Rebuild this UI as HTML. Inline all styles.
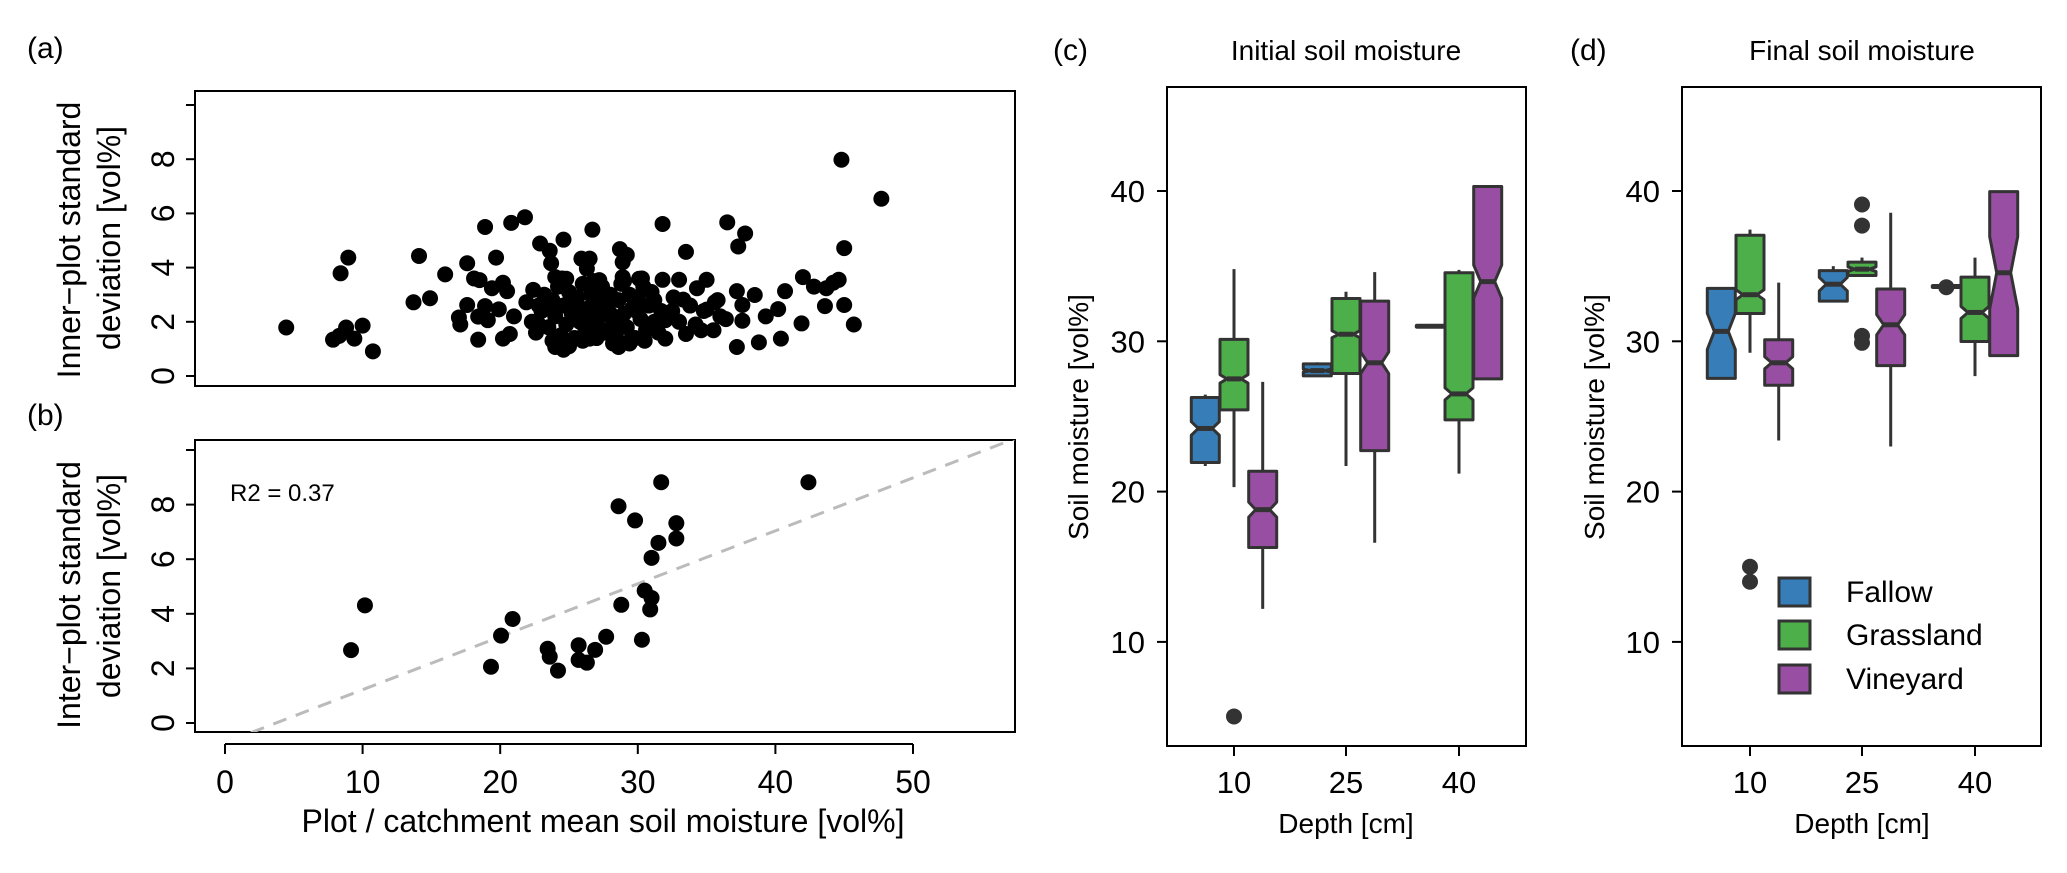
<!DOCTYPE html>
<html><head><meta charset="utf-8"><style>
html,body{margin:0;padding:0;background:#fff;}
svg{display:block;font-family:"Liberation Sans",sans-serif;}
</style></head><body>
<svg id="fig" width="2067" height="873" viewBox="0 0 2067 873" xmlns="http://www.w3.org/2000/svg">
<defs><clipPath id="clipB"><rect x="195" y="440" width="820" height="292"/></clipPath></defs>
<!-- Panel a -->
<g>
<text x="27" y="58" font-size="30">(a)</text>
<rect x="195" y="91" width="820" height="295" fill="none" stroke="#000" stroke-width="2"/>
<g id="aAxis"></g>
<text transform="translate(80,240) rotate(-90)" text-anchor="middle" font-size="32">Inner−plot standard</text>
<text transform="translate(120,238) rotate(-90)" text-anchor="middle" font-size="32">deviation [vol%]</text>
<g id="aPts"></g>
</g>
<!-- Panel b -->
<g>
<text x="27" y="425" font-size="30">(b)</text>
<rect x="195" y="440" width="820" height="292" fill="none" stroke="#000" stroke-width="2"/>
<g id="bAxis"></g>
<text transform="translate(80,595) rotate(-90)" text-anchor="middle" font-size="32">Inter−plot standard</text>
<text transform="translate(120,586) rotate(-90)" text-anchor="middle" font-size="32">deviation [vol%]</text>
<text x="603" y="832" text-anchor="middle" font-size="32">Plot / catchment mean soil moisture [vol%]</text>
<text x="230" y="501" font-size="24">R2 = 0.37</text>
<g id="bLine" clip-path="url(#clipB)"></g>
<g id="bPts"></g>
</g>
<!-- Panel c -->
<g>
<text x="1053" y="60" font-size="30">(c)</text>
<text x="1346" y="60" text-anchor="middle" font-size="28">Initial soil moisture</text>
<rect x="1167" y="87" width="359" height="659" fill="none" stroke="#000" stroke-width="2"/>
<text transform="translate(1088,417) rotate(-90)" text-anchor="middle" font-size="28">Soil moisture [vol%]</text>
<text x="1346" y="833" text-anchor="middle" font-size="28">Depth [cm]</text>
<g id="cG"></g>
</g>
<!-- Panel d -->
<g>
<text x="1570" y="60" font-size="30">(d)</text>
<text x="1862" y="60" text-anchor="middle" font-size="28">Final soil moisture</text>
<rect x="1682" y="87" width="359" height="659" fill="none" stroke="#000" stroke-width="2"/>
<text transform="translate(1604,417) rotate(-90)" text-anchor="middle" font-size="28">Soil moisture [vol%]</text>
<text x="1862" y="833" text-anchor="middle" font-size="28">Depth [cm]</text>
<g id="dG"></g>
</g>
<g>
<rect x="1779" y="578" width="31" height="28" fill="#377eb8" stroke="#333" stroke-width="3"/>
<text x="1846" y="602" font-size="30">Fallow</text>
<rect x="1779" y="621" width="31" height="28" fill="#4daf4a" stroke="#333" stroke-width="3"/>
<text x="1846" y="645" font-size="30">Grassland</text>
<rect x="1779" y="665" width="31" height="28" fill="#984ea3" stroke="#333" stroke-width="3"/>
<text x="1846" y="689" font-size="30">Vineyard</text>
</g>
</svg>
<script>
// ---- Panel a data ----
const aX = [4.45,7.85,8.4,8.96,8.8,8.3,9.4,10.0,10.75,13.7,14.1,14.9,16.0,17.0,17.1,17.6,17.6,18.1,18.4,18.4,18.5,18.9,18.9,19.1,19.7,19.9,19.4,20.2,20.2,20.5,20.7,20.8,21.0,21.8,21.9,22.4,22.9,22.8,23.3,23.6,23.7,24.0,24.0,24.6,24.6,24.8,25.0,25.9,26.3,26.5,26.5,26.7,27.2,27.5,28.7,29.2,28.9,28.9,28.6,29.4,30.1,31.8,31.8,32.0,32.0,33.0,33.5,33.3,33.5,34.3,35.0,34.6,35.5,35.0,35.6,36.4,36.5,37.2,37.2,37.3,37.8,37.6,37.6,38.5,38.8,39.3,40.2,40.4,40.7,41.9,42.0,42.8,43.6,43.7,44.2,44.6,44.8,45.0,45.0,45.7,47.7,
22.3,22.6,23.0,23.2,23.5,23.8,24.0,24.2,24.4,24.6,24.8,25.0,25.2,25.4,25.6,25.8,26.0,26.2,26.4,26.6,26.8,27.0,27.2,27.4,27.6,27.8,28.0,28.2,28.4,28.6,28.8,29.0,29.2,29.4,29.6,29.8,30.0,30.2,30.4,30.6,30.8,31.0,31.2,31.5,31.7,23.8,25.0,26.0,27.0,28.2,29.4,30.5,24.5,26.8,29.0,30.3,22.8,25.5,27.5,28.8,29.9,31.2,24.0,26.3,28.0,32.5,33.0,33.8,34.2,34.8,36.0,35.8,32.6];
const aY = [1.79,1.34,3.79,4.37,1.79,1.48,1.38,1.86,0.91,2.72,4.43,2.87,3.75,2.16,1.9,4.16,2.62,3.6,1.34,2.19,3.54,5.5,2.58,2.06,4.37,2.46,3.24,1.38,3.44,3.13,1.55,5.65,2.2,5.86,2.72,3.18,4.89,1.9,2.51,4.62,4.16,3.65,1.07,5.03,0.97,3.59,2.72,4.33,3.96,4.33,1.38,5.40,3.54,1.69,4.68,4.47,4.2,3.65,1.07,1.28,3.59,5.61,3.55,2.06,1.38,3.55,4.58,2.82,1.55,3.24,3.55,1.69,1.69,2.45,2.72,2.1,5.67,3.13,1.07,4.78,5.26,2.62,2.04,2.99,1.24,2.2,2.47,1.38,3.13,1.94,3.65,3.3,2.58,3.24,3.44,3.55,7.98,2.62,4.72,1.9,6.54,
2.0,1.6,2.4,3.0,1.8,2.8,2.2,3.3,1.5,2.6,1.9,3.1,2.3,1.4,2.9,2.0,3.4,1.7,2.5,3.0,1.9,2.7,2.2,3.3,1.6,2.5,3.0,2.0,1.5,2.8,3.4,2.3,1.8,3.0,2.5,1.4,2.9,2.1,3.3,1.7,2.6,3.1,2.0,1.6,2.4,1.3,1.1,1.3,1.4,1.2,1.2,1.3,3.6,3.5,3.5,3.6,2.6,2.5,2.9,2.0,2.4,2.8,2.5,2.1,2.3,2.4,2.0,2.6,1.9,2.4,2.2,2.8,2.9];
const aTicks = [0,2,4,6,8,10];
const aTickLabels = ["0","2","4","6","8",""];
// ---- Panel b data ----
const bX = [9.16,10.17,19.33,20.06,20.9,23.45,23.6,24.2,25.7,25.7,26.3,26.9,27.7,28.6,28.8,29.8,30.3,30.5,31.0,30.9,31.0,31.5,31.7,32.8,32.8,42.4];
const bY = [2.67,4.31,2.06,3.2,3.81,2.72,2.43,1.92,2.85,2.31,2.21,2.68,3.16,7.94,4.33,7.42,3.05,4.85,4.58,4.16,6.05,6.6,8.82,7.32,6.76,8.82];
const bFit = [0.194,-0.72]; // slope, intercept
const bXTicks = [0,10,20,30,40,50];
const bYTicks = [0,2,4,6,8,10];
const bYTickLabels = ["0","2","4","6","8",""];
// ---- Panels c/d data ----
const depths = ["10","25","40"];
const groups = ["Fallow","Grassland","Vineyard"];
const boxTicks = [10,20,30,40];
// per panel: arrays ordered [depth][group]
const cQ1 = [[21.94,25.44,16.28],[27.7,27.86,22.73],[30.95,24.77,27.5]];
const cMed = [[24.2,27.5,18.8],[28.05,30.47,28.57],[31.0,26.5,33.97]];
const cQ3 = [[26.26,30.13,21.35],[28.5,32.85,32.67],[31.05,34.56,40.3]];
const cLo = [[21.7,20.3,12.2],[27.7,21.7,16.6],[30.95,21.2,27.5]];
const cHi = [[26.45,34.8,27.3],[28.6,33.3,34.6],[31.05,34.75,40.3]];
const cNotch = [[0.45,0.28,0.5],[0.1,0.23,0.72],[0,0.4,1.1]];
const cOutV = [5.04]; const cOutD = [0]; const cOutG = [1];
const dQ1 = [[27.53,31.85,27.08],[32.67,34.38,28.38],[33.6,29.99,29.05]];
const dMed = [[30.66,33.1,28.57],[33.8,34.8,31.1],[33.65,31.92,34.56]];
const dQ3 = [[33.52,37.06,30.1],[34.7,35.27,33.48],[33.7,34.27,39.96]];
const dLo = [[27.53,29.24,23.4],[32.67,34.38,23.0],[33.6,27.68,29.05]];
const dHi = [[33.52,37.43,33.9],[35.0,35.57,38.55],[33.7,35.57,39.96]];
const dNotch = [[1.2,0.33,0.4],[0.45,0.15,0.67],[0,0.4,2.4]];
const dOutV = [15.0,14.0,39.1,37.7,30.36,29.9,33.6]; const dOutD = [0,0,1,1,1,1,2]; const dOutG = [1,1,1,1,1,1,0];
const colors = ["#377eb8","#4daf4a","#984ea3"];

const NS="http://www.w3.org/2000/svg";
function mk(tag,attrs,parent){const e=document.createElementNS(NS,tag);for(const k in attrs)e.setAttribute(k,attrs[k]);parent.appendChild(e);return e;}
const xA=v=>225+13.76*v, yA=v=>376-27.1*v, yB=v=>723-27.3*v;

// Panel a axis
const aAx=document.getElementById('aAxis');
let l=mk('line',{x1:195,x2:195,y1:yA(0),y2:yA(10),stroke:'#000','stroke-width':2},aAx);


aTicks.forEach((t,i)=>{
  const tk=mk('line',{x1:186,x2:195,y1:yA(t),y2:yA(t),stroke:'#000','stroke-width':2},aAx);
  
  
  if(aTickLabels[i]){const tx=mk('text',{transform:`translate(174,${yA(t)}) rotate(-90)`,'text-anchor':'middle','font-size':32},aAx);tx.textContent=aTickLabels[i];
  
  }
});
const aP=document.getElementById('aPts');
aX.forEach((x,i)=>{const c=mk('circle',{cx:xA(x),cy:yA(aY[i]),r:8,fill:'#000'},aP);
  
  });

// Panel b axes
const bAx=document.getElementById('bAxis');
l=mk('line',{x1:195,x2:195,y1:yB(0),y2:yB(10),stroke:'#000','stroke-width':2},bAx);


bYTicks.forEach((t,i)=>{
  const tk=mk('line',{x1:186,x2:195,y1:yB(t),y2:yB(t),stroke:'#000','stroke-width':2},bAx);
  
  
  if(bYTickLabels[i]){const tx=mk('text',{transform:`translate(174,${yB(t)}) rotate(-90)`,'text-anchor':'middle','font-size':32},bAx);tx.textContent=bYTickLabels[i];
  
  }
});
l=mk('line',{x1:xA(bXTicks[0]),x2:xA(bXTicks[bXTicks.length-1]),y1:744,y2:744,stroke:'#000','stroke-width':2},bAx);


bXTicks.forEach(t=>{
  const tk=mk('line',{x1:xA(t),x2:xA(t),y1:744,y2:754,stroke:'#000','stroke-width':2},bAx);
  
  
  const tx=mk('text',{x:xA(t),y:793,'text-anchor':'middle','font-size':32},bAx);tx.textContent=String(t);
  
  
});
const bL=document.getElementById('bLine');
l=mk('line',{x1:xA(-3),y1:yB(bFit[0]*-3+bFit[1]),x2:xA(60),y2:yB(bFit[0]*60+bFit[1]),stroke:'#bbb','stroke-width':3,'stroke-dasharray':'14,10'},bL);


const bP=document.getElementById('bPts');
bX.forEach((x,i)=>{const c=mk('circle',{cx:xA(x),cy:yB(bY[i]),r:8,fill:'#000'},bP);
  
  });

// Box panels
const yS=v=>191+(40-v)*15.03;
function boxPanel(gid,left,centers,Q1,Med,Q3,Lo,Hi,N,oV,oD,oG,pfx){
  const g=document.getElementById(gid);
  boxTicks.forEach(t=>{
    const tk=mk('line',{x1:left-10,x2:left,y1:yS(t),y2:yS(t),stroke:'#000','stroke-width':2},g);
    
    
    const tx=mk('text',{x:left-22,y:yS(t)+11,'text-anchor':'end','font-size':31},g);tx.textContent=String(t);
    
    
  });
  depths.forEach((d,di)=>{
    const cx=centers[di];
    const tk=mk('line',{x1:cx,x2:cx,y1:746,y2:756,stroke:'#000','stroke-width':2},g);
    
    
    const tx=mk('text',{x:cx,y:793,'text-anchor':'middle','font-size':31},g);tx.textContent=d;
    
    
    groups.forEach((gr,gi)=>{
      const bx=cx+(gi-1)*28.7, hw=14, ind=7;
      const w=mk('line',{x1:bx,x2:bx,y1:yS(Hi[di][gi]),y2:yS(Lo[di][gi]),stroke:'#333','stroke-width':3},g);
      
      
      const q1=yS(Q1[di][gi]),q3=yS(Q3[di][gi]),m=yS(Med[di][gi]);
      const nh=N[di][gi]*15.03;
      const nt=Math.max(q3,m-nh), nb=Math.min(q1,m+nh);
      const xl=bx-hw,xr=bx+hw;
      const pts=nh>0?[[xl,q3],[xl,nt],[xl+ind,m],[xl,nb],[xl,q1],[xr,q1],[xr,nb],[xr-ind,m],[xr,nt],[xr,q3]]:[[xl,q3],[xl,q1],[xr,q1],[xr,q3]];
      const p=mk('polygon',{points:pts.map(a=>a.join(',')).join(' '),fill:colors[gi],stroke:'#333','stroke-width':3,'stroke-linejoin':'round'},g);
      
      
      const mi=nh>0?ind:0;
      const ml=mk('line',{x1:xl+mi,x2:xr-mi,y1:m,y2:m,stroke:'#333','stroke-width':5},g);
      
      
    });
  });
  oV.forEach((v,i)=>{
    const c=mk('circle',{cx:centers[oD[i]]+(oG[i]-1)*28.7,cy:yS(v),r:8,fill:'#333'},g);
    
    
  });
}
boxPanel('cG',1167,[1234,1346,1459],cQ1,cMed,cQ3,cLo,cHi,cNotch,cOutV,cOutD,cOutG,'panel-c');
boxPanel('dG',1682,[1750,1862,1975],dQ1,dMed,dQ3,dLo,dHi,dNotch,dOutV,dOutD,dOutG,'panel-d');
</script>
</body></html>
